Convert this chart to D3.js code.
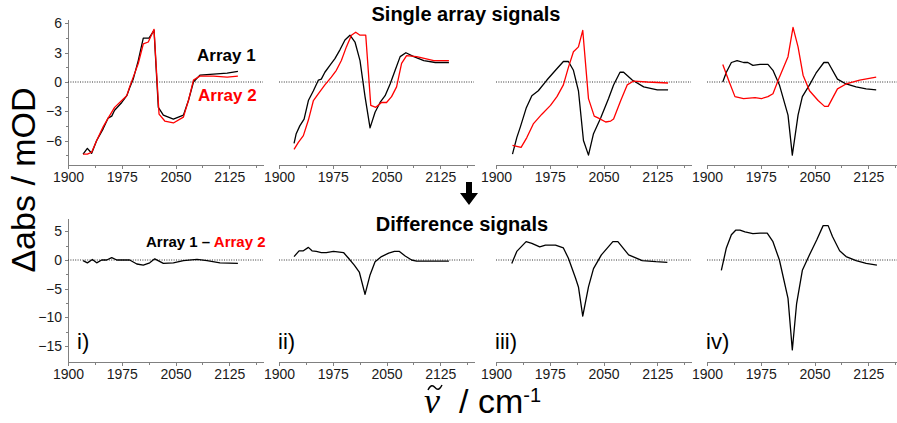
<!DOCTYPE html>
<html>
<head>
<meta charset="utf-8">
<script src="https://cdn.jsdelivr.net/npm/d3@7"></script>
<style>
	body { margin: 0; background: #fff; }
	svg { display: block; font-family: "Liberation Sans", Arial, sans-serif; }
	.axis path, .axis line { stroke: #808080; shape-rendering: crispEdges; }
	.axis text { fill: #1a1a1a; font-size: 14px; }
	.zero { stroke: #333; stroke-dasharray: 1,1.4; }
	.trace { fill: none; stroke-width: 1.3; stroke-linejoin: round; }
</style>
</head>
<body>
<script>
var xTicks = [1900, 1975, 2050, 2125];
var xMinorTicks = [1937.5, 2012.5, 2087.5, 2162.5];
var yTicksTop = [6, 3, 0, -3, -6];
var yMinorTop = [4.5, 1.5, -1.5, -4.5, -7.5];
var yTicksBottom = [5, 0, -5, -10, -15];
var yMinorBottom = [2.5, -2.5, -7.5, -12.5];
var panelLabels = ["i)", "ii)", "iii)", "iv)"];

// single array signals, [wavenumber, mOD]
var array1_i = [[1921,-7.4],[1927,-6.8],[1933,-7.3],[1940,-6.0],[1949,-4.8],[1956,-3.7],[1961,-3.5],[1965,-2.9],[1975,-2.1],[1982,-1.4],[1986,-0.6],[1991,0.3],[1998,2.2],[2005,4.5],[2013,4.5],[2020,5.3],[2026,-2.6],[2033,-3.4],[2047,-3.8],[2061,-3.4],[2068,-1.9],[2075,0],[2084,0.7],[2103,0.8],[2122,0.9],[2137,1.1]];
var array2_i = [[1921,-7.4],[1927,-7.4],[1933,-7.2],[1940,-6.0],[1949,-4.6],[1956,-3.7],[1965,-2.6],[1975,-1.9],[1982,-1.4],[1986,-0.5],[1991,0.5],[1998,1.9],[2005,3.9],[2012,4.1],[2020,5.4],[2027,-3.3],[2035,-4.0],[2047,-4.2],[2061,-3.6],[2068,-1.9],[2075,0.2],[2084,0.6],[2103,0.6],[2122,0.5],[2137,0.6]];

var array1_ii = [[1921,-6.3],[1924,-5.3],[1929,-4.5],[1935,-3.8],[1941,-1.9],[1948,-0.9],[1955,0.2],[1959,0.3],[1964,1.0],[1971,1.7],[1978,2.4],[1985,3.3],[1992,4.3],[1999,4.8],[2006,4.1],[2013,2.2],[2020,-1.5],[2027,-4.7],[2034,-3.1],[2041,-2.1],[2048,-1.4],[2055,-0.2],[2062,1.2],[2069,2.6],[2077,3.0],[2088,2.6],[2102,2.2],[2118,2.0],[2137,2.0]];
var array2_ii = [[1921,-6.9],[1927,-6.2],[1934,-5.5],[1941,-3.9],[1948,-1.9],[1955,-1.2],[1964,-0.3],[1973,0.5],[1980,1.2],[1987,2.2],[1994,3.6],[2001,4.8],[2007,5.1],[2013,4.8],[2021,4.8],[2028,-2.4],[2035,-2.6],[2043,-2.1],[2050,-2.1],[2057,-1.5],[2064,-0.5],[2071,1.9],[2078,2.7],[2092,2.6],[2116,2.2],[2137,2.2]];

var array1_iii = [[1923,-7.4],[1929,-5.7],[1934,-4.6],[1942,-2.7],[1950,-1.4],[1959,-0.9],[1971,0.2],[1983,1.2],[1994,2.1],[2001,2.1],[2008,1.2],[2015,-0.9],[2022,-6.0],[2029,-7.5],[2036,-5.3],[2046,-3.7],[2057,-1.7],[2064,-0.3],[2073,1.0],[2078,1.0],[2090,0.2],[2106,-0.5],[2125,-0.8],[2140,-0.8]];
var array2_iii = [[1923,-6.5],[1935,-6.7],[1943,-5.7],[1952,-4.3],[1964,-3.3],[1976,-2.4],[1985,-1.5],[1994,-0.3],[2001,1.5],[2008,3.1],[2015,3.6],[2021,5.3],[2029,-1.7],[2037,-3.5],[2043,-3.7],[2053,-4.1],[2060,-4.0],[2064,-3.8],[2074,-1.9],[2083,-0.3],[2092,0.1],[2111,0],[2140,-0.1]];

var array1_iv = [[1922,0],[1927,1.0],[1934,2.0],[1942,2.2],[1951,2.0],[1957,2.0],[1964,1.7],[1974,1.8],[1985,1.8],[1992,1.2],[2001,-0.3],[2013,-3.4],[2019,-7.5],[2027,-3.4],[2033,-1.5],[2043,-0.3],[2052,0.9],[2063,2.0],[2069,2.0],[2082,0.3],[2094,-0.2],[2108,-0.5],[2122,-0.7],[2136,-0.8]];
var array2_iv = [[1922,1.8],[1930,0.2],[1939,-1.5],[1951,-1.7],[1967,-1.6],[1976,-1.7],[1985,-1.5],[1992,-1.2],[2001,0.5],[2013,2.6],[2020,5.6],[2027,3.6],[2034,0.7],[2043,-0.9],[2055,-1.9],[2064,-2.5],[2069,-2.5],[2082,-0.7],[2094,-0.2],[2113,0.2],[2136,0.5]];

// difference signals (array 1 - array 2)
var diff_i = [[1921,-0.1],[1927,-0.5],[1934,0.1],[1940,-0.5],[1947,0],[1954,0],[1961,0.4],[1968,0],[1986,0],[1996,-0.7],[2005,-0.9],[2014,-0.5],[2021,0.2],[2033,-0.6],[2047,-0.5],[2061,-0.1],[2080,0.1],[2094,-0.1],[2112,-0.5],[2137,-0.6]];
var diff_ii = [[1921,0.6],[1928,1.6],[1934,1.6],[1941,2.2],[1946,1.6],[1952,1.5],[1959,1.3],[1966,1.3],[1976,1.5],[1990,1.3],[1997,0.3],[2005,-0.9],[2012,-2.1],[2020,-6.0],[2027,-2.6],[2034,-0.3],[2043,0.6],[2053,1.2],[2061,1.5],[2068,1.5],[2076,0.7],[2085,0],[2092,-0.2],[2137,-0.2]];
var diff_iii = [[1922,-0.6],[1929,1.5],[1942,3.2],[1950,2.9],[1961,2.3],[1969,2.6],[1983,2.6],[1994,2.1],[2001,0.3],[2011,-3.2],[2015,-4.7],[2021,-9.8],[2029,-4.7],[2036,-1.5],[2047,0.9],[2063,3.2],[2070,3.2],[2085,0.9],[2104,-0.1],[2123,-0.3],[2139,-0.4]];
var diff_iv = [[1920,-1.8],[1927,2.1],[1934,4.4],[1940,5.2],[1946,5.2],[1953,4.9],[1964,4.6],[1974,4.7],[1984,4.7],[1992,3.2],[2001,0],[2013,-6.7],[2019,-15.7],[2025,-7.6],[2033,-1.8],[2043,0.9],[2053,3.5],[2062,6.0],[2069,6.0],[2075,4.1],[2085,1.6],[2094,0.6],[2108,-0.1],[2122,-0.6],[2137,-0.9]];

var singles = [[array1_i, array2_i], [array1_ii, array2_ii], [array1_iii, array2_iii], [array1_iv, array2_iv]];
var diffs = [diff_i, diff_ii, diff_iii, diff_iv];

var PANEL_X = [68, 279, 496, 707];
var PANEL_W = 195;
var RED = "#ff0000";

var svg = d3.select("body").append("svg")
	.attr("width", 897)
	.attr("height", 423);

var yTop = d3.scaleLinear().domain([-8.51, 6.46]).range([165, 19]);
var yBottom = d3.scaleLinear().domain([-17.8, 7.33]).range([362, 218]);

function drawAxes(g, x, y, first, yTicks, yMinor) {
	var base = y.range()[0];

	g.append("g").attr("class", "axis")
		.attr("transform", "translate(0," + base + ")")
		.call(d3.axisBottom(x).tickValues(xTicks).tickSize(4).tickSizeOuter(0).tickPadding(3).tickFormat(d3.format("d")));
	g.append("g").attr("class", "axis")
		.attr("transform", "translate(0," + base + ")")
		.call(d3.axisBottom(x).tickValues(xMinorTicks).tickSize(3).tickSizeOuter(0).tickFormat(""));

	if (first) {
		var x0 = x.range()[0];
		g.append("g").attr("class", "axis")
			.attr("transform", "translate(" + x0 + ",0)")
			.call(d3.axisLeft(y).tickValues(yTicks).tickSize(3).tickSizeOuter(0).tickPadding(3));
		g.append("g").attr("class", "axis")
			.attr("transform", "translate(" + x0 + ",0)")
			.call(d3.axisLeft(y).tickValues(yMinor).tickSize(2).tickSizeOuter(0).tickFormat(""));
	}

	//dotted zero line
	g.append("line").attr("class", "zero")
		.attr("x1", x.range()[0]).attr("x2", x.range()[1])
		.attr("y1", y(0)).attr("y2", y(0));
}

function drawTrace(g, x, y, data, color) {
	var line = d3.line()
		.x(function (d) { return x(d[0]); })
		.y(function (d) { return y(d[1]); });
	g.append("path")
		.datum(data)
		.attr("class", "trace")
		.attr("stroke", color)
		.attr("d", line);
}

PANEL_X.forEach(function (x0, i) {
	var x = d3.scaleLinear().domain([1900, 2172]).range([x0, x0 + PANEL_W]);

	var top = svg.append("g");
	drawAxes(top, x, yTop, i === 0, yTicksTop, yMinorTop);
	drawTrace(top, x, yTop, singles[i][0], "#000");
	drawTrace(top, x, yTop, singles[i][1], RED);

	var bottom = svg.append("g");
	drawAxes(bottom, x, yBottom, i === 0, yTicksBottom, yMinorBottom);
	drawTrace(bottom, x, yBottom, diffs[i], "#000");

	bottom.append("text")
		.attr("x", i === 0 ? x0 + 9 : x0 - 1)
		.attr("y", 349)
		.style("font-size", "22px")
		.text(panelLabels[i]);
});

// titles
svg.append("text")
	.attr("x", 466).attr("y", 21)
	.attr("text-anchor", "middle")
	.style("font-size", "20px").style("font-weight", "bold")
	.text("Single array signals");

svg.append("text")
	.attr("x", 462).attr("y", 231)
	.attr("text-anchor", "middle")
	.style("font-size", "20px").style("font-weight", "bold")
	.text("Difference signals");

// legend
svg.append("text")
	.attr("x", 197).attr("y", 61)
	.style("font-size", "17px").style("font-weight", "bold")
	.text("Array 1");
svg.append("text")
	.attr("x", 198).attr("y", 101)
	.style("font-size", "17px").style("font-weight", "bold")
	.attr("fill", RED)
	.text("Array 2");

var diffLegend = svg.append("text")
	.attr("x", 146).attr("y", 247)
	.style("font-size", "15px").style("font-weight", "bold");
diffLegend.append("tspan").text("Array 1 \u2013 ");
diffLegend.append("tspan").attr("fill", RED).text("Array 2");

// arrow between the rows
var arrow = d3.path();
arrow.moveTo(466, 182);
arrow.lineTo(472, 182);
arrow.lineTo(472, 193);
arrow.lineTo(478, 193);
arrow.lineTo(469, 205);
arrow.lineTo(460, 193);
arrow.lineTo(466, 193);
arrow.closePath();
svg.append("path").attr("d", arrow.toString()).attr("fill", "#000");

// axis titles
svg.append("text")
	.attr("transform", "translate(35,180) rotate(-90)")
	.attr("text-anchor", "middle")
	.style("font-size", "34px")
	.text("\u0394abs / mOD");

svg.append("text")
	.attr("x", 424).attr("y", 413)
	.style("font-family", "'Liberation Serif', 'Times New Roman', serif")
	.style("font-style", "italic")
	.style("font-size", "36px")
	.text("\u03bd");

// tilde over the nu, drawn as a stroke
var tilde = d3.path();
tilde.moveTo(428, 390);
tilde.bezierCurveTo(430.5, 384.5, 433, 385, 435, 387.5);
tilde.bezierCurveTo(437, 390, 439.5, 390.5, 442, 385);
svg.append("path")
	.attr("d", tilde.toString())
	.attr("fill", "none")
	.attr("stroke", "#000")
	.attr("stroke-width", 1.4);

var unit = svg.append("text")
	.attr("x", 459).attr("y", 413)
	.style("font-size", "34px");
unit.append("tspan").text("/ cm");
unit.append("tspan")
	.attr("dy", -11)
	.style("font-size", "20px")
	.text("-1");
</script>
</body>
</html>
